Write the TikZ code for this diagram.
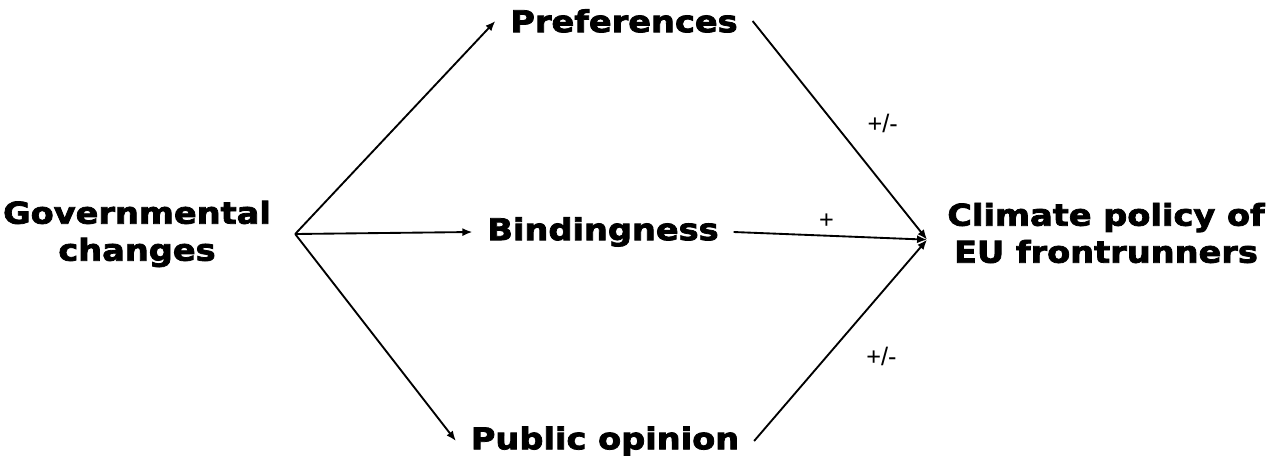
\documentclass[tikz,border=0pt]{standalone}
\usepackage{fontspec}
\setmainfont{Liberation Sans}
\newfontfamily\heavyfont[FakeStretch=1.12,FakeBold=2.6]{DejaVu Sans}
\usetikzlibrary{arrows.meta,positioning}

\begin{document}
\begin{tikzpicture}[x=0.75pt, y=-0.75pt, >={Latex[length=7.5pt,width=6pt]},
  concept/.style={font=\heavyfont\bfseries\fontsize{22.5}{27.75}\selectfont,
                  align=center, inner xsep=11pt, inner ysep=0pt},
  link/.style={->, line width=1.4pt},
  sign/.style={font=\fontsize{19}{21}\selectfont, inner sep=0pt}]

\useasboundingbox (0,0) rectangle (1274,461);

% ---- cause, mechanisms and outcome ----
\node[concept, inner xsep=0pt] (gov) at (137,234) {Governmental\\changes};
\node[concept] (pref) at (624,21)  {Preferences};
\node[concept] (bind) at (603,232) {Bindingness};
\node[concept] (pub)  at (605,441) {Public opinion};
\node[concept, inner xsep=15pt] (clim) at (1106,233) {Climate policy of\\EU frontrunners};

% ---- branching point right of the cause, meeting point left of the outcome ----
\coordinate (split) at ([xshift=18pt]gov.east);
\coordinate (meet)  at ([yshift=-5pt]clim.west);

\draw[link] (split) -- (pref.west);
\draw[link] (split) -- (bind.west);
\draw[link] (split) -- (pub.west);

% ---- effects on the outcome ----
\draw[link] (pref.east) -- (meet) node[pos=0.47, sign, right=24pt] {+/-};
\draw[link] (bind.east) -- (meet) node[pos=0.48, sign, above=5pt] {+};
\draw[link] (pub.east)  -- (meet) node[pos=0.42, sign, right=29pt] {+/-};

\end{tikzpicture}
\end{document}
